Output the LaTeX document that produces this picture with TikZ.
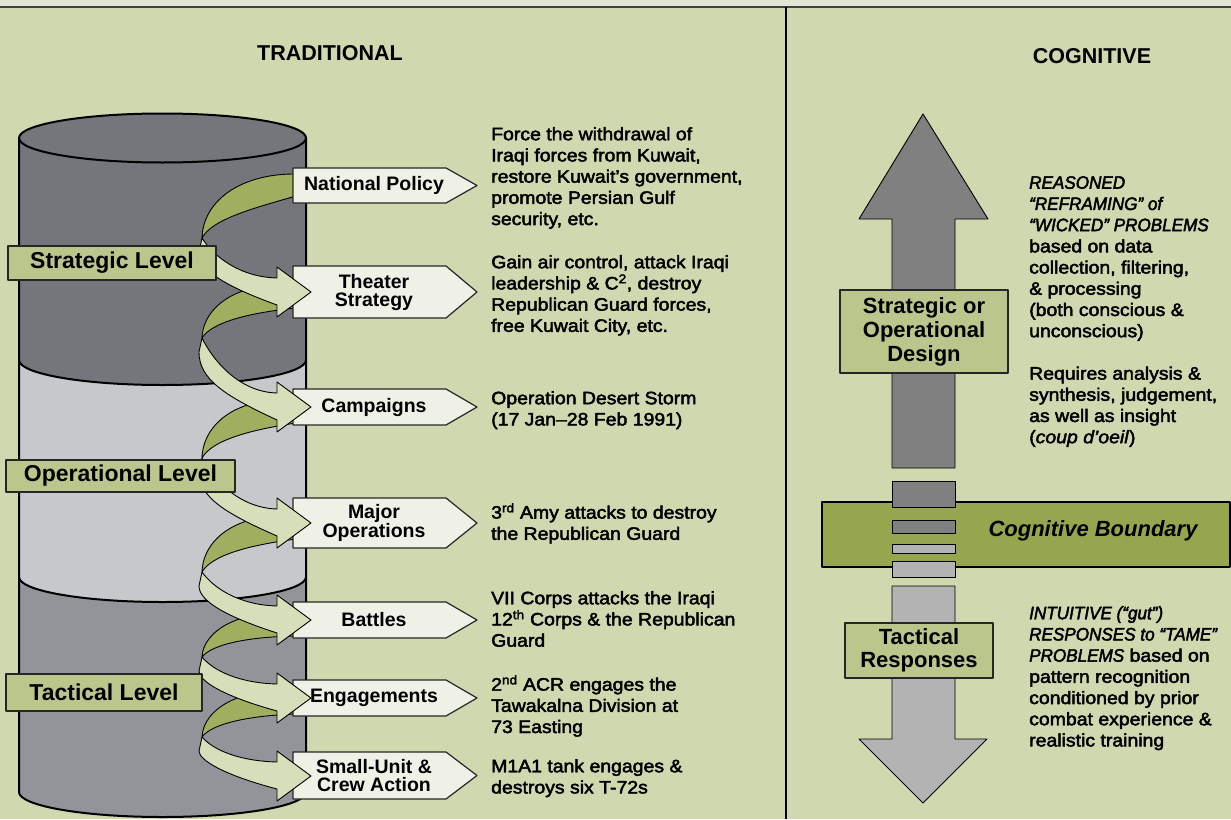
\documentclass[tikz,border=0pt]{standalone}
\usepackage{fontspec}
\setmainfont{Liberation Sans}
\newfontfamily\bodyf[FakeBold=2.5,FakeStretch=1.08]{Liberation Sans}
\newfontfamily\capsit[FakeBold=2.5,FakeStretch=0.95]{Liberation Sans}
\definecolor{bgGreen}{HTML}{D0D8B0}
\definecolor{topStrip}{HTML}{E3E6D4}
\definecolor{cylDark}{HTML}{75767B}
\definecolor{cylLight}{HTML}{C7C8CC}
\definecolor{cylMid}{HTML}{939499}
\definecolor{ribBack}{HTML}{9EAF5F}
\definecolor{ribFront}{HTML}{D6DFBA}
\definecolor{levelFill}{HTML}{BAC68B}
\definecolor{tagFill}{HTML}{EFF1E6}
\definecolor{bandGreen}{HTML}{95A64F}
\definecolor{arrowDark}{HTML}{808080}
\definecolor{arrowLight}{HTML}{B3B3B3}
\newcommand\mytag[4]{%
  \draw[tagbox] (293,#2) -- (446,#2) -- (477,{(#2+#3)/2}) -- (446,#3) -- (293,#3) -- cycle;
  \node[tagtext] (#1) at (374,{(#2+#3)/2}) {#4};}
\newcommand\myback[4]{%
  \draw[ribback] (296,#3) .. controls (240,{#1-12}) and (203,{#1+0.3*(#2-#1)}) .. (202,#2)
    .. controls (212,{#2-0.35*(#2-#1)}) and (250,{#1+0.45*(#2-#1)}) .. (296,#4) -- cycle;}
\newcommand\myfront[2]{%
  \draw[ribfront] (202,#1) .. controls (214,{#1+0.35*(#2-#1)}) and (240,{#2-15}) .. (277,{#2-14})
    -- (277,{#2-25}) -- (311,#2) -- (277,{#2+25}) -- (277,{#2+13})
    .. controls (225,{#2+13-0.35*(#2-#1)}) and (199,{#1+0.6*(#2-#1)}) .. (199,{#1+14}) -- cycle;}
\begin{document}
\begin{tikzpicture}[x=1pt,y=-1pt,line join=round,
  cyl/.style={line width=2pt},
  ribback/.style={fill=ribBack,draw=black,line width=0.9pt},
  ribfront/.style={fill=ribFront,draw=black,line width=0.9pt},
  tagbox/.style={fill=tagFill,draw=black!85,line width=1.2pt},
  tagtext/.style={font=\bfseries\fontsize{19.5}{18}\selectfont,align=center,inner sep=0pt},
  levelbox/.style={fill=levelFill,draw=black!85,line width=1.2pt,inner sep=0pt,font=\bfseries\fontsize{23}{26}\selectfont},
  designbox/.style={fill=levelFill,draw=black!85,line width=1.2pt,inner sep=0pt,align=center},
  body/.style={anchor=north west,inner sep=0pt,align=left,font=\bodyf\fontsize{18}{21.2}\selectfont},
  title/.style={font=\bfseries\fontsize{21.5}{24}\selectfont,inner sep=0pt},
  bigarrow/.style={draw=black,line width=0.9pt},
  seg/.style={draw=black,line width=1pt}]
\useasboundingbox (0,0) rectangle (1231,819);
% background
\fill[bgGreen] (0,0) rectangle (1231,819);
\fill[topStrip] (0,0) rectangle (1231,6);
\draw[line width=2pt,black!75] (0,7) -- (1231,7);
\draw[line width=1.2pt] (786,7) -- (786,819);
% titles
\node[title] (trad) at (330,53) {TRADITIONAL};
\node[title] (cogn) at (1092,56) {COGNITIVE};
% cylinder fills
\fill[cylMid] (19,138) -- (19,792) .. controls (19,805.8) and (83.25,817) .. (162.5,817) .. controls (241.75,817) and (306,805.8) .. (306,792) -- (306,138) -- cycle;
\fill[cylLight] (19,138) -- (19,577) .. controls (19,590.8) and (83.25,602) .. (162.5,602) .. controls (241.75,602) and (306,590.8) .. (306,577) -- (306,138) -- cycle;
\fill[cylDark] (19,138) -- (19,360) .. controls (19,373.8) and (83.25,385) .. (162.5,385) .. controls (241.75,385) and (306,373.8) .. (306,360) -- (306,138) -- cycle;
\draw[cyl] (19,138) -- (19,792) .. controls (19,805.8) and (83.25,817) .. (162.5,817) .. controls (241.75,817) and (306,805.8) .. (306,792) -- (306,138);
\draw[cyl] (19,360) .. controls (19,373.8) and (83.25,385) .. (162.5,385) .. controls (241.75,385) and (306,373.8) .. (306,360);
\draw[cyl] (19,577) .. controls (19,590.8) and (83.25,602) .. (162.5,602) .. controls (241.75,602) and (306,590.8) .. (306,577);
\draw[cyl,fill=cylDark] (162.5,138) ellipse [x radius=143.5, y radius=24.5];
% ribbons behind the cylinder
\myback{185.5}{238}{174}{196}
\myback{292}{338}{286}{308}
\myback{407}{458}{401}{423}
\myback{523}{572}{517}{539}
\myback{620}{657}{614}{636}
\myback{698}{737}{692}{714}
% tags
\mytag{np}{168}{203}{National Policy}
\mytag{ts}{266}{318}{Theater\\Strategy}
\mytag{camp}{389}{425}{Campaigns}
\mytag{mo}{498}{548}{Major\\Operations}
\mytag{bat}{602}{638}{Battles}
\mytag{eng}{680}{716}{Engagements}
\mytag{su}{752}{799}{Small-Unit \&\\Crew Action}
% ribbons in front
\myfront{238}{292}
\myfront{338}{407}
\myfront{458}{523}
\myfront{572}{620}
\myfront{657}{698}
\myfront{737}{776}
% level boxes
\node[levelbox,minimum width=208pt,minimum height=34pt] (strat) at (112,263) {Strategic Level};
\node[levelbox,minimum width=229pt,minimum height=32pt] (oper) at (120.5,476) {Operational Level};
\node[levelbox,minimum width=196pt,minimum height=37pt] (tact) at (104,692.5) {Tactical Level};
% descriptions
\node[body] (dnp) at (491,127) {Force the withdrawal of\\Iraqi forces from Kuwait,\\restore Kuwait’s government,\\promote Persian Gulf\\security, etc.};
\node[body] (dts) at (491,255) {Gain air control, attack Iraqi\\leadership \& C\textsuperscript{2}, destroy\\Republican Guard forces,\\free Kuwait City, etc.};
\node[body] (dcamp) at (491,391) {Operation Desert Storm\\(17 Jan–28 Feb 1991)};
\node[body] (dmo) at (491,503) {3\textsuperscript{rd} Amy attacks to destroy\\the Republican Guard};
\node[body] (dbat) at (491,591) {VII Corps attacks the Iraqi\\12\textsuperscript{th} Corps \& the Republican\\Guard};
\node[body] (deng) at (491,675) {2\textsuperscript{nd} ACR engages the\\Tawakalna Division at\\73 Easting};
\node[body] (dsu) at (491,759) {M1A1 tank engages \&\\destroys six T-72s};
% cognitive side
\draw[bigarrow,fill=arrowDark] (923,114) -- (988,219) -- (955,219) -- (955,468) -- (892,468) -- (892,219) -- (859,219) -- cycle;
\draw[line width=1.2pt,fill=bandGreen] (822,502) rectangle (1230,567);
\draw[seg,fill=arrowDark] (892,481) rectangle (955,507);
\draw[seg,fill=arrowDark] (892,520) rectangle (955,533);
\draw[seg,fill=arrowLight] (892,544) rectangle (955,553);
\draw[seg,fill=arrowLight] (892,561) rectangle (955,577);
\draw[bigarrow,fill=arrowLight] (892,586) -- (955,586) -- (955,739) -- (987,739) -- (923,803) -- (859,739) -- (892,739) -- cycle;
\node[font=\bfseries\itshape\fontsize{22}{24}\selectfont,inner sep=0pt] (cb) at (1093,531) {Cognitive Boundary};
\node[designbox,minimum width=168pt,minimum height=83pt,font=\bfseries\fontsize{22}{24}\selectfont] (sod) at (924,331.5) {Strategic or\\Operational\\Design};
\node[designbox,minimum width=148pt,minimum height=55pt,font=\bfseries\fontsize{22}{22.5}\selectfont] (tr) at (919,650.5) {Tactical\\Responses};
\node[body] (dreason) at (1029,176) {{\capsit\itshape REASONED}\\{\capsit\itshape “REFRAMING” of}\\{\capsit\itshape “WICKED” PROBLEMS}\\based on data\\collection, filtering,\\\& processing\\(both conscious \&\\unconscious)\\[21.2pt]Requires analysis \&\\synthesis, judgement,\\as well as insight\\(\textit{coup d’oeil})};
\node[body] (dintu) at (1029,606) {{\capsit\itshape INTUITIVE (“gut”)}\\{\capsit\itshape RESPONSES to “TAME”}\\{\capsit\itshape PROBLEMS} based on\\pattern recognition\\conditioned by prior\\combat experience \&\\realistic training};
\end{tikzpicture}
\end{document}
